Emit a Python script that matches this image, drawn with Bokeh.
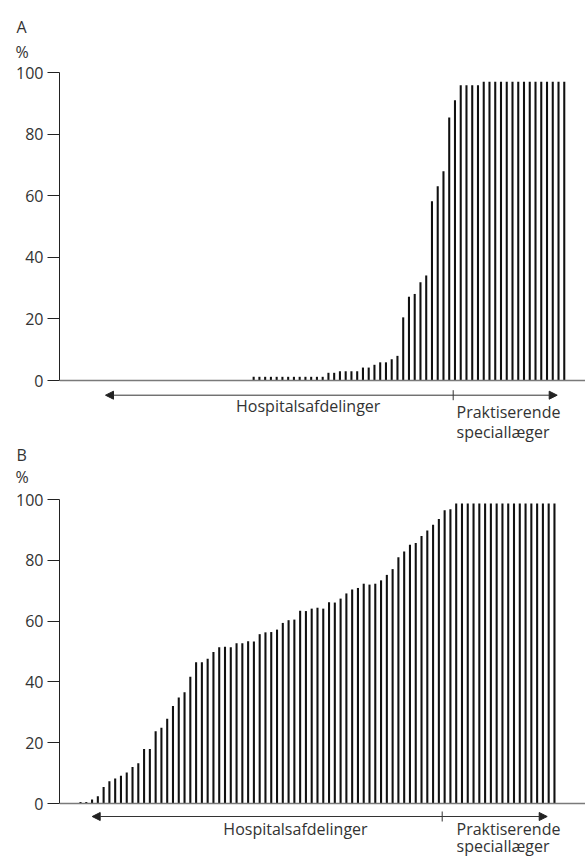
from bokeh.plotting import figure
from bokeh.models import Range1d, FixedTicker, Label, Arrow, NormalHead, Span, Title
from bokeh.layouts import column
from bokeh.embed import file_html
from bokeh.resources import INLINE

# ---------------- data ----------------
panel_labels = ["A", "B"]
unit_label = "%"
y_ticks = [0, 20, 40, 60, 80, 100]
group_hospital = "Hospitalsafdelinger"
group_practice_1 = "Praktiserende"
group_practice_2 = "speciallæger"

# Panel A: share (%) per unit, sorted; 63 hospital departments, 20 practising specialists
a_hospital = [0, 0, 0, 0, 0, 0, 0, 0, 0, 0, 0, 0, 0, 0,
              0, 0, 0, 0, 0, 0, 0, 0, 0, 0, 0, 0, 0, 0,
              1.2, 1.2, 1.2, 1.2, 1.2, 1.2, 1.2, 1.2, 1.2, 1.2, 1.2, 1.2, 1.2,
              2.5, 2.5, 3.0, 3.0, 3.0, 3.0, 4.2, 4.2, 5.1, 5.9, 5.9, 6.9, 8.0,
              20.5, 27.2, 28.1, 31.9, 34.1, 58.2, 63.1, 67.9, 85.4]
a_practice = [91.0, 95.9, 95.9, 95.9, 95.9,
              97.0, 97.0, 97.0, 97.0, 97.0, 97.0, 97.0, 97.0,
              97.0, 97.0, 97.0, 97.0, 97.0, 97.0, 97.0]

# Panel B
b_hospital = [0.5, 0.5, 1.3, 2.4, 5.4, 7.3, 8.2, 9.1, 10.2, 12.0, 13.2, 17.9, 17.9, 23.8,
              24.9, 27.9, 32.1, 34.9, 36.6, 41.7, 46.5, 46.5, 47.6, 49.8, 51.4, 51.6, 51.4, 52.7,
              52.7, 53.4, 53.3, 55.7, 56.3, 56.4, 57.2, 59.4, 60.3, 60.5, 63.4, 63.3, 64.1, 64.4,
              64.1, 66.2, 66.1, 67.4, 69.1, 70.4, 70.9, 72.3, 72.0, 72.3, 73.4, 75.2, 77.1, 81.0,
              82.9, 85.1, 85.7, 88.0, 89.8, 91.7, 93.6]
b_practice = [96.5, 96.8,
              98.7, 98.7, 98.7, 98.7, 98.7, 98.7, 98.7, 98.7, 98.7,
              98.7, 98.7, 98.7, 98.7, 98.7, 98.7, 98.7, 98.7, 98.7]

# ---------------- layout (pixels within each figure) ----------------
W = 585
FRAME_LEFT = 59
TEXT_COLOR = "#333333"
FONT = "Open Sans"
FS = "16px"

layouts = [
    dict(h=442, top=72, zero=380, x0=92.1, dx=5.752,
         unit_standoff=20, letter_standoff=-18,
         arrow_y=394.7, tick_half=5,
         left_tip=105, divider=452.7, right_tip=556.7,
         hosp=(307.7, 405.7), prak=(456, 411), spec=(456, 431)),
    dict(h=414, top=57, zero=361, x0=80.0, dx=5.78,
         unit_standoff=24, letter_standoff=-28,
         arrow_y=374, tick_half=5,
         left_tip=91.7, divider=441.7, right_tip=546.7,
         hosp=(295, 386.3), prak=(456, 386.3), spec=(456, 403)),
]


def make_panel(letter, hospital, practice, L):
    values = hospital + practice
    idx = list(range(len(values)))
    ppu = (L["zero"] - L["top"]) / 100.0

    def xd(px):
        return (px - L["x0"]) / L["dx"]

    def yd(py):
        return (L["zero"] - py) / ppu

    p = figure(width=W, height=L["h"], output_backend="svg", toolbar_location=None,
               x_axis_location=None, y_axis_location="left",
               x_range=Range1d(xd(FRAME_LEFT), xd(W)),
               y_range=Range1d(yd(L["h"]), 100),
               min_border_left=FRAME_LEFT, min_border_right=0,
               min_border_top=L["top"], min_border_bottom=0)
    p.outline_line_color = None
    p.xgrid.grid_line_color = None
    p.ygrid.grid_line_color = None
    p.background_fill_color = "white"
    p.border_fill_color = "white"

    # panel letter and unit as stacked titles above the frame
    p.add_layout(Title(text=unit_label, align="left", offset=-44, standoff=L["unit_standoff"],
                       text_font=FONT, text_font_size=FS, text_font_style="normal",
                       text_color=TEXT_COLOR), "above")
    p.add_layout(Title(text=letter, align="left", offset=-43, standoff=L["letter_standoff"],
                       text_font=FONT, text_font_size=FS, text_font_style="normal",
                       text_color=TEXT_COLOR), "above")

    # y axis
    ya = p.yaxis[0]
    ya.ticker = FixedTicker(ticks=y_ticks)
    ya.bounds = (0, 100)
    ya.axis_line_color = "#222222"
    ya.axis_line_width = 1
    ya.major_tick_line_color = "#222222"
    ya.major_tick_out = 12
    ya.major_tick_in = 0
    ya.minor_tick_line_color = None
    ya.major_label_standoff = 4
    ya.major_label_text_font = FONT
    ya.major_label_text_font_size = FS
    ya.major_label_text_color = TEXT_COLOR

    # baseline at y = 0
    p.add_layout(Span(location=0, dimension="width", line_color="#7a7a7a", line_width=1.3))

    # bars
    p.vbar(x=idx, top=values, bottom=0, width=0.36, fill_color="#111111",
           line_color=None)

    # group arrows
    ay = yd(L["arrow_y"])
    head = dict(size=8, fill_color="#222222", line_color="#222222")
    p.add_layout(Arrow(x_start=xd(L["divider"]), y_start=ay, x_end=xd(L["left_tip"]), y_end=ay,
                       end=NormalHead(**head), line_color="#333333", line_width=1))
    p.add_layout(Arrow(x_start=xd(L["divider"]), y_start=ay, x_end=xd(L["right_tip"]), y_end=ay,
                       end=NormalHead(**head), line_color="#333333", line_width=1))
    th = L["tick_half"] / ppu
    p.segment(x0=[xd(L["divider"])], y0=[ay - th], x1=[xd(L["divider"])], y1=[ay + th],
              line_color="#333333", line_width=1)

    def lab(text, pos, align):
        p.add_layout(Label(x=xd(pos[0]), y=yd(pos[1]), text=text, text_align=align,
                           text_baseline="middle", text_font=FONT, text_font_size=FS,
                           text_color=TEXT_COLOR))

    lab(group_hospital, L["hosp"], "center")
    lab(group_practice_1, L["prak"], "left")
    lab(group_practice_2, L["spec"], "left")
    return p


pa = make_panel(panel_labels[0], a_hospital, a_practice, layouts[0])
pb = make_panel(panel_labels[1], b_hospital, b_practice, layouts[1])
page = column(pa, pb, spacing=0)

open("out.html", "w").write(file_html(page, INLINE))
